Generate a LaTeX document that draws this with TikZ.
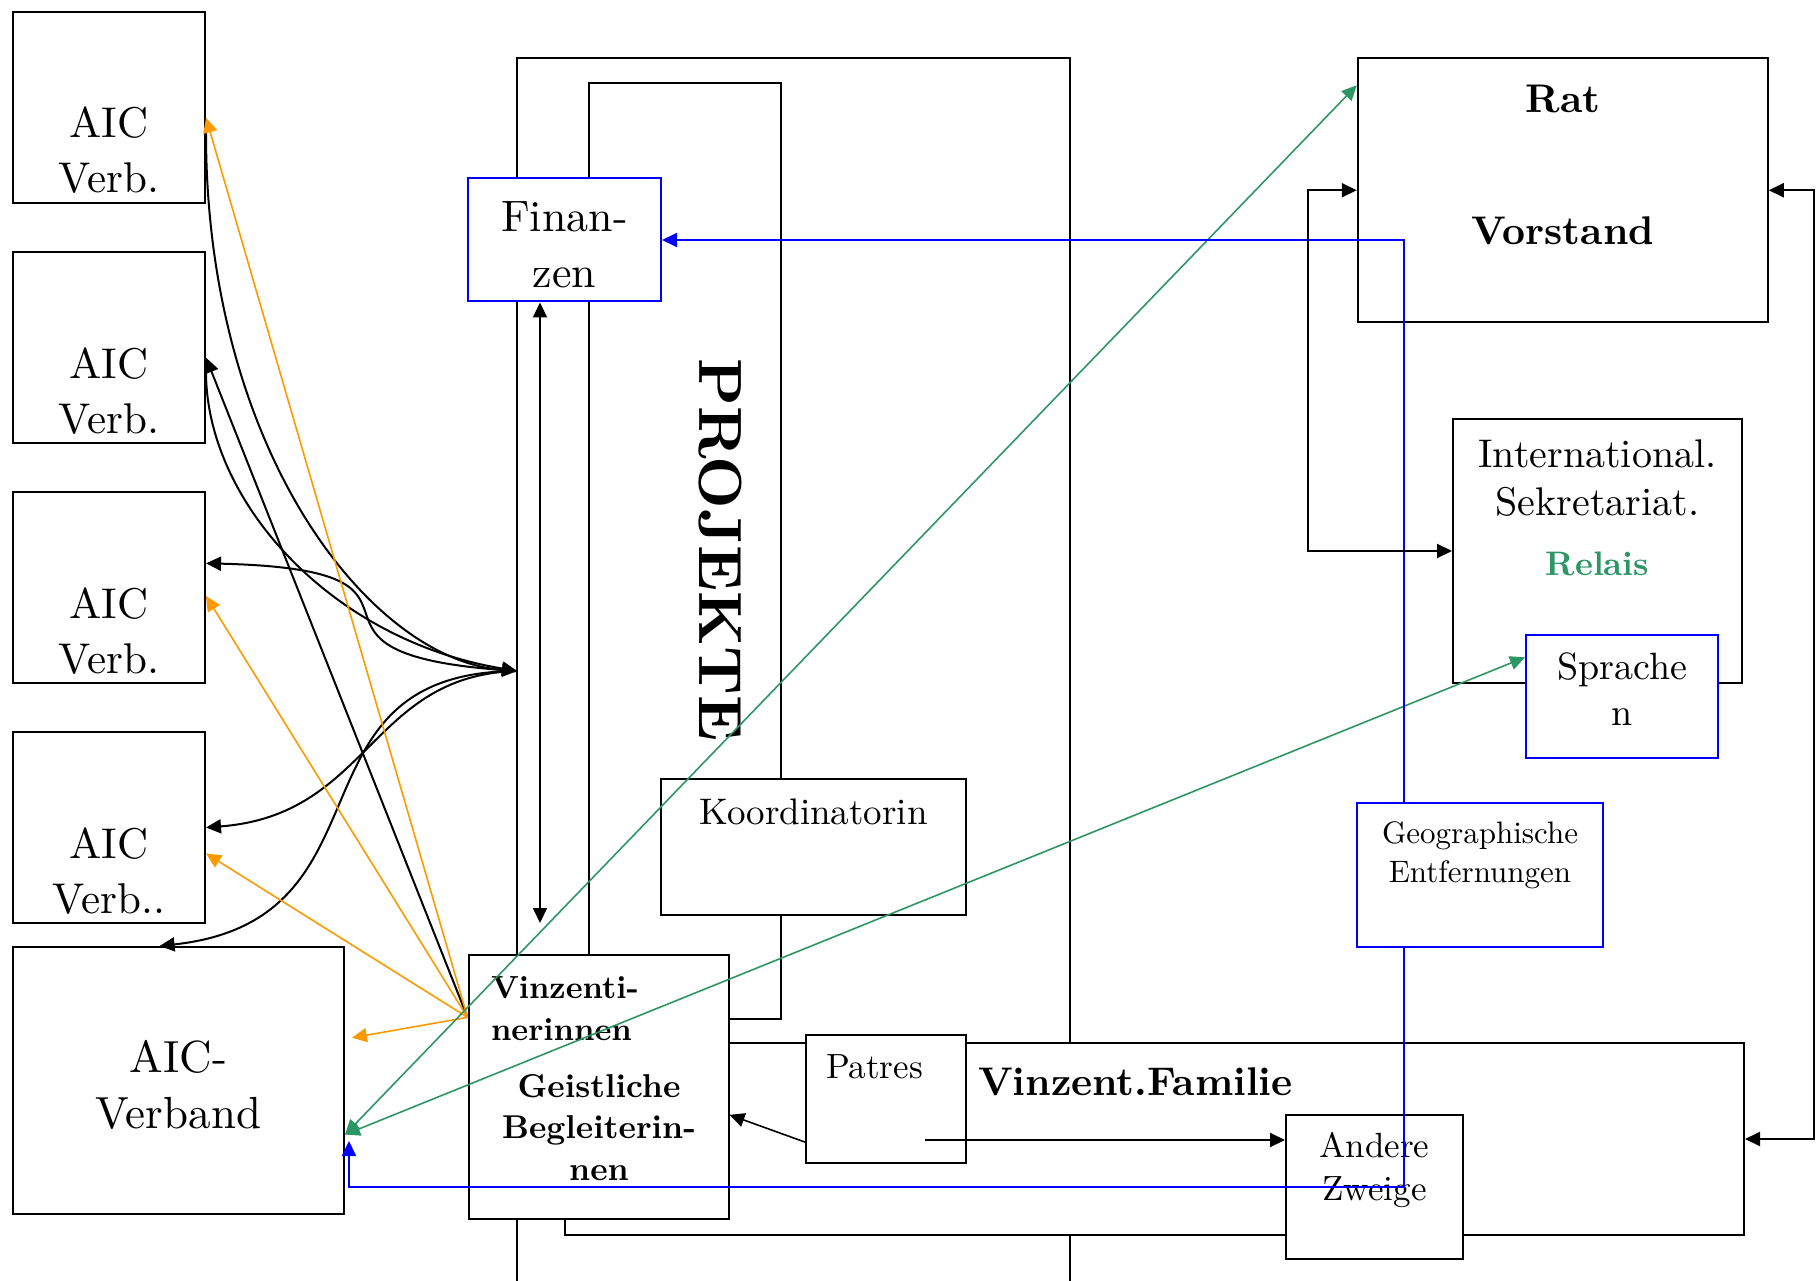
\documentclass[tikz,border=0pt]{standalone}
\usepackage{fontspec}
\setmainfont{lmroman10-regular.otf}[BoldFont=lmroman10-bold.otf]
\usetikzlibrary{arrows.meta}
\definecolor{relaisgreen}{RGB}{46,150,100}
\definecolor{aicorange}{RGB}{255,153,0}
\newcommand{\fsz}[2]{\fontsize{#1}{#2}\selectfont}
\tikzset{
  box/.style={draw, line width=2pt, fill=white, inner sep=0pt},
  bluebox/.style={box, draw=blue},
  arr/.style={-{Triangle[length=15pt,width=14pt]}},
  darr/.style={{Triangle[length=15pt,width=14pt]}-{Triangle[length=15pt,width=14pt]}},
  lbl/.style={inner sep=0pt, anchor=base, align=center},
}
\begin{document}
\begin{tikzpicture}[x=1pt,y=-1pt,line width=2pt]
 \useasboundingbox (0,0) rectangle (1818,1281);
 % Projekte-Rahmen
 \draw (517,1281) -- (517,58.5) -- (1070,58.5) -- (1070,1281);
 \draw (589,83) rectangle (781,1019);
 \coordinate (proj) at (517,671);
 % Kaesten
 \node[box, minimum width=192pt, minimum height=191pt] (v1) at (109,107.5) {};
 \node[box, minimum width=192pt, minimum height=191pt] (v2) at (109,347.5) {};
 \node[box, minimum width=192pt, minimum height=191pt] (v3) at (109,587.5) {};
 \node[box, minimum width=192pt, minimum height=191pt] (v4) at (109,827.5) {};
 \node[box, minimum width=331pt, minimum height=267pt] (verband) at (178.5,1080.5) {};
 \node[box, minimum width=1179pt, minimum height=191.5pt] (familie) at (1154.5,1139) {};
 \node[box, minimum width=305pt, minimum height=136pt] (koord) at (813.5,847) {};
 \node[bluebox, minimum width=193pt, minimum height=123pt] (fin) at (564.5,240) {};
 \node[box, minimum width=260pt, minimum height=264pt] (vinz) at (598.5,1087) {};
 \node[box, minimum width=160pt, minimum height=128pt] (patres) at (886,1099) {};
 \node[box, minimum width=177pt, minimum height=144pt] (andere) at (1374.5,1187) {};
 \node[box, minimum width=410pt, minimum height=263.5pt] (rat) at (1562.75,190.25) {};
 \node[box, minimum width=289pt, minimum height=264pt] (sek) at (1597.5,551) {};
 \node[bluebox, minimum width=192pt, minimum height=123pt] (sprach) at (1622,696.5) {};
 \node[bluebox, minimum width=246pt, minimum height=144pt] (geo) at (1480,875) {};
 % Texte (base = Grundlinie der letzten Zeile)
 \node[lbl, font=\fsz{43}{55}] (tv1) at (109,193) {AIC\\Verb.};
 \node[lbl, font=\fsz{43}{55}] (tv2) at (109,433) {AIC\\Verb.};
 \node[lbl, font=\fsz{43}{55}] (tv3) at (109,673) {AIC\\Verb.};
 \node[lbl, font=\fsz{43}{55}] (tv4) at (109,913) {AIC\\Verb..};
 \node[lbl, font=\fsz{45}{56}] (tverband) at (178.5,1128) {AIC-\\Verband};
 \node[lbl, font=\fsz{44}{56}] (tfin) at (564.5,288) {Finan-\\zen};
 \node[inner sep=0pt, rotate=-90, font=\bfseries\fsz{61}{70}] (tproj) at (720,550) {PROJEKTE};
 \node[lbl, font=\fsz{37}{44}] (tkoord) at (813.5,824) {Koordinatorin};
 \node[lbl, anchor=base west, font=\fsz{35}{42}] (tpatres) at (825,1078) {Patres};
 \node[lbl, anchor=base west, font=\bfseries\fsz{40}{48}] (tfam) at (977,1095) {Vinzent.Familie};
 \node[lbl, font=\fsz{35}{43}] (tandere) at (1374.5,1200) {Andere\\Zweige};
 \node[lbl, font=\bfseries\fsz{40}{48}] (trat) at (1563,112.5) {Rat};
 \node[lbl, font=\bfseries\fsz{40}{48}] (tvorst) at (1563,244.6) {Vorstand};
 \node[lbl, font=\fsz{40}{48}] (tsek) at (1597.5,515) {International.\\Sekretariat.};
 \node[lbl, text=relaisgreen, font=\bfseries\fsz{34}{40}] (trelais) at (1597.5,575) {Relais};
 \node[lbl, font=\fsz{38}{46}] (tsprach) at (1622,725) {Sprache\\n};
 \node[lbl, font=\fsz{31}{39}] (tgeo) at (1480,882) {Geographische\\Entfernungen};
 \node[lbl, anchor=base west, align=left, font=\bfseries\fsz{32}{42}] (tvinz) at (490,1040) {Vinzenti-\\nerinnen};
 \node[lbl, font=\bfseries\fsz{33}{41.5}] (tgeist) at (599,1180) {Geistliche\\Begleiterin-\\nen};
 % schwarze Kurven
 \draw[arr] (v1.-13) .. controls (205,450) and (370,660) .. (proj);
 \draw[arr] (v2.-13) .. controls (205,500) and (330,640) .. (proj);
 \draw[arr] (proj) .. controls (250,655) and (480,570) .. (v3.14);
 \draw[arr] (proj) .. controls (370,675) and (370,815) .. (v4.east);
 \draw[arr] (proj) .. controls (280,672) and (400,920) .. (verband.98);
 \draw[arr] (vinz.152) -- (v2.-6);
 % orange Pfeile
 \draw[aicorange, line width=1.6pt, arr] (vinz.152) -- (v1.-6);
 \draw[aicorange, line width=1.6pt, arr] (vinz.152) -- (v3.-5);
 \draw[aicorange, line width=1.6pt, arr] (vinz.152) -- (v4.-15);
 \draw[aicorange, line width=1.6pt, arr, shorten >=7pt] (vinz.152) -- (verband.14);
 % gruene Pfeile
 \draw[relaisgreen, line width=1.6pt, darr] (verband.-18.5) -- (rat.153);
 \draw[relaisgreen, line width=1.6pt, darr] (verband.-18.5) -- (sprach.158);
 % blaue Linien
 \coordinate (vtip) at (349,1141);
 \draw[blue, arr] (geo.136.2) |- (fin.east);
 \draw[blue, arr] (geo.-136.2) |- (vtip |- andere) -- (vtip);
 % Finanzen - Projekte
 \coordinate (fd) at (540,923);
 \draw[darr] (fd |- fin.south) -- (fd);
 % Rat - Sekretariat - Familie
 \draw[darr] (rat.west) -- ++(-48.5,0) |- (sek.west);
 \draw[darr] (rat.east) -- ++(45,0) |- (familie.east);
 % Patres
 \coordinate (pa) at (925,1140);
 \draw[arr] (pa) -- (andere.west |- pa);
 \draw[arr, line width=1.6pt] (patres.-152.9) -- (vinz.-12);
\end{tikzpicture}
\end{document}
